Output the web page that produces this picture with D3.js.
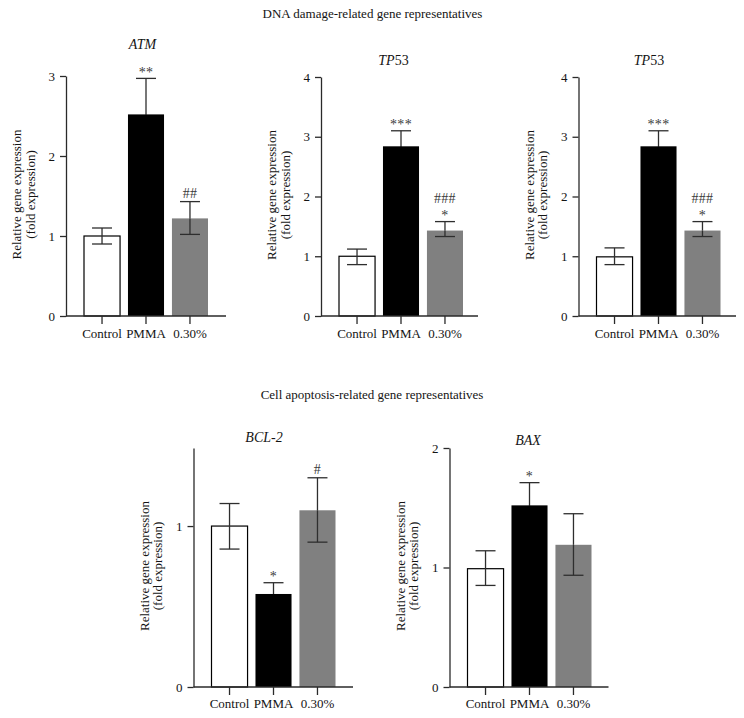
<!DOCTYPE html>
<html><head><meta charset="utf-8">
<script src="https://cdn.jsdelivr.net/npm/d3@7"></script>
<style>
body{margin:0;background:#fff}
svg{display:block}
text{font-family:"Liberation Serif","Times New Roman",serif;}
</style>
</head><body><svg id="c" width="744" height="718"></svg>
<script>
// ---------- data ----------
const categories = ["Control", "PMMA", "0.30%"];
const sectionTitles = ["DNA damage-related gene representatives", "Cell apoptosis-related gene representatives"];
const geneNames = ["ATM", "TP53", "TP53", "BCL-2", "BAX"];
const yLabelLines = ["Relative gene expression", "(fold expression)"];

const atmMean = [1.00, 2.52, 1.22];
const atmHigh = [1.10, 2.97, 1.43];
const atmLow  = [0.90, 2.07, 1.02];
const atmMarks = ["", "**", "##"];
const atmTicks = [0, 1, 2, 3];

const tp53aMean = [1.00, 2.84, 1.43];
const tp53aHigh = [1.12, 3.10, 1.58];
const tp53aLow  = [0.86, 2.58, 1.33];
const tp53aMarks = ["", "***", "###\n*"];
const tp53aTicks = [0, 1, 2, 3, 4];

const tp53bMean = [0.99, 2.84, 1.43];
const tp53bHigh = [1.14, 3.10, 1.58];
const tp53bLow  = [0.86, 2.58, 1.33];
const tp53bMarks = ["", "***", "###\n*"];
const tp53bTicks = [0, 1, 2, 3, 4];

const bcl2Mean = [1.00, 0.578, 1.098];
const bcl2High = [1.14, 0.648, 1.30];
const bcl2Low  = [0.857, 0.508, 0.90];
const bcl2Marks = ["", "*", "#"];
const bcl2Ticks = [0, 1];

const baxMean = [0.99, 1.52, 1.19];
const baxHigh = [1.14, 1.71, 1.45];
const baxLow  = [0.85, 1.33, 0.935];
const baxMarks = ["", "*", ""];
const baxTicks = [0, 1, 2];

const yMaxes = [3, 4, 4, 1.485, 2];

// ---------- layout / style ----------
const barFill = ["#ffffff", "#000000", "#808080"];
const axisColor = "#2a2a2a";
const errColor = "#2e2e2e";
const textColor = "#141414";
const FS = 13;

const panels = [
  {mean: atmMean,   high: atmHigh,   low: atmLow,   marks: atmMarks,   ticks: atmTicks,   x0: 66,    x1: 226, yB: 316, yT: 76,  tx: 142.5, ty: 48.5,  lbl: 22},
  {mean: tp53aMean, high: tp53aHigh, low: tp53aLow, marks: tp53aMarks, ticks: tp53aTicks, x0: 321,   x1: 478, yB: 316, yT: 77,  tx: 393.5, ty: 65,    lbl: 22},
  {mean: tp53bMean, high: tp53bHigh, low: tp53bLow, marks: tp53bMarks, ticks: tp53bTicks, x0: 578.5, x1: 736, yB: 316, yT: 77,  tx: 649,   ty: 65,    lbl: 22},
  {mean: bcl2Mean,  high: bcl2High,  low: bcl2Low,  marks: bcl2Marks,  ticks: bcl2Ticks,  x0: 193.5, x1: 353, yB: 687, yT: 448, tx: 264,   ty: 442,   lbl: 20.5},
  {mean: baxMean,   high: baxHigh,   low: baxLow,   marks: baxMarks,   ticks: baxTicks,   x0: 449.5, x1: 608.5, yB: 687, yT: 448, tx: 528, ty: 444.5, lbl: 20.5}
];

const svg = d3.select("#c");

// section titles
svg.append("text").attr("x", 372.5).attr("y", 18).attr("text-anchor", "middle")
  .attr("font-size", FS).attr("fill", textColor).text(sectionTitles[0]);
svg.append("text").attr("x", 372).attr("y", 398.5).attr("text-anchor", "middle")
  .attr("font-size", FS).attr("fill", textColor).text(sectionTitles[1]);

panels.forEach((p, i) => {
  const g = svg.append("g");
  const y = d3.scaleLinear().domain([0, yMaxes[i]]).range([p.yB, p.yT]);
  const x = d3.scaleBand().domain(categories).range([p.x0 + 18, p.x0 + 142]).paddingInner(0.18).paddingOuter(0);
  const bw = x.bandwidth();

  // bars
  g.selectAll("rect.bar").data(categories).join("rect")
    .attr("class", "bar")
    .attr("x", d => x(d))
    .attr("y", (d, k) => y(p.mean[k]))
    .attr("width", bw)
    .attr("height", (d, k) => p.yB - y(p.mean[k]))
    .attr("fill", (d, k) => barFill[k])
    .attr("stroke", (d, k) => k === 0 ? "#000" : "none")
    .attr("stroke-width", 1.2);

  // error bars
  const capW = 20;
  categories.forEach((c, k) => {
    const cx = x(c) + bw / 2;
    const inside = barFill[k] === "#000000" ? "#000" : errColor;
    const eg = g.append("g").attr("stroke-width", 1.3);
    eg.append("line").attr("stroke", errColor).attr("x1", cx).attr("x2", cx).attr("y1", y(p.mean[k])).attr("y2", y(p.high[k]));
    eg.append("line").attr("stroke", inside).attr("x1", cx).attr("x2", cx).attr("y1", y(p.low[k])).attr("y2", y(p.mean[k]));
    eg.append("line").attr("stroke", errColor).attr("x1", cx - capW / 2).attr("x2", cx + capW / 2).attr("y1", y(p.high[k])).attr("y2", y(p.high[k]));
    eg.append("line").attr("stroke", inside).attr("x1", cx - capW / 2).attr("x2", cx + capW / 2).attr("y1", y(p.low[k])).attr("y2", y(p.low[k]));

    // significance marks
    const lines = p.marks[k] ? p.marks[k].split("\n") : [];
    let center = y(p.high[k]) - 8.5;
    for (let j = lines.length - 1; j >= 0; j--) {
      const ln = lines[j];
      const isStar = ln.includes("*");
      g.append("text").attr("x", cx).attr("y", center + (isStar ? 7 : 4.8))
        .attr("text-anchor", "middle").attr("font-size", 14)
        .attr("letter-spacing", 0.3)
        .attr("fill", "#3a3a3a").text(ln);
      center -= 15;
    }
  });

  // y axis
  const ya = g.append("g").attr("transform", `translate(${p.x0},0)`)
    .call(d3.axisLeft(y).tickValues(p.ticks).tickFormat(d3.format("d")).tickSize(6).tickSizeOuter(0).tickPadding(5));
  ya.select(".domain").attr("stroke", axisColor).attr("stroke-width", 1.3);
  ya.selectAll(".tick line").attr("stroke", axisColor).attr("stroke-width", 1.3);
  ya.selectAll(".tick text").attr("font-size", FS).attr("fill", textColor).attr("font-family", "Liberation Serif, serif");

  // x axis
  g.append("line").attr("x1", p.x0).attr("x2", p.x1).attr("y1", p.yB).attr("y2", p.yB)
    .attr("stroke", axisColor).attr("stroke-width", 1.3);
  const xa = g.append("g").attr("transform", `translate(0,${p.yB})`)
    .call(d3.axisBottom(x).tickSize(8).tickPadding(p.lbl - 8 - 0.71 * FS));
  xa.select(".domain").remove();
  xa.selectAll(".tick line").attr("stroke", axisColor).attr("stroke-width", 1.3);
  xa.selectAll(".tick text").attr("font-size", FS).attr("fill", textColor).attr("font-family", "Liberation Serif, serif");

  // y label
  const cy = (p.yB + p.yT) / 2 - 1.5;
  const lg = g.append("g").attr("transform", `translate(0,${cy}) rotate(-90)`);
  lg.append("text").attr("x", 0).attr("y", p.x0 - 45).attr("text-anchor", "middle")
    .attr("font-size", FS).attr("fill", textColor).text(yLabelLines[0]);
  lg.append("text").attr("x", 0).attr("y", p.x0 - 31.5).attr("text-anchor", "middle")
    .attr("font-size", FS).attr("fill", textColor).text(yLabelLines[1]);

  // gene title: letters italic, trailing digits upright
  const name = geneNames[i];
  const m = name.match(/^([A-Za-z]+)(\d+)$/);
  const t = svg.append("text").attr("x", p.tx).attr("y", p.ty).attr("text-anchor", "middle")
    .attr("font-size", 14).attr("fill", textColor);
  if (m) {
    t.append("tspan").attr("font-style", "italic").text(m[1]);
    t.append("tspan").text(m[2]);
  } else {
    t.attr("font-style", "italic").text(name);
  }
});
</script>
</body></html>
